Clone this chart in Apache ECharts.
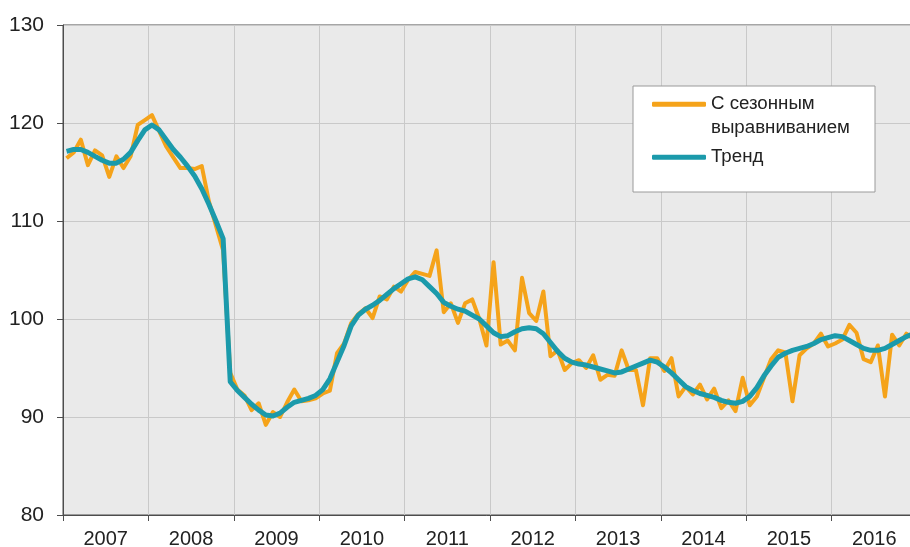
<!DOCTYPE html>
<html>
<head>
<meta charset="utf-8">
<script src="https://cdn.jsdelivr.net/npm/echarts@6/dist/echarts.min.js"></script>
<style>
html, body { margin: 0; padding: 0; background: #fff; }
#main { width: 910px; height: 547px; }
</style>
</head>
<body>
<div id="main"></div>
<script>
// годы по оси X
var years = ['2007', '2008', '2009', '2010', '2011', '2012', '2013', '2014', '2015', '2016'];

// индекс с сезонным выравниванием, помесячно янв 2007 - дек 2016
var seasonal = [
  116.4, 117.0, 118.3, 115.7, 117.2, 116.7, 114.5, 116.6, 115.4, 116.6, 119.8, 120.3,
  120.8, 119.2, 117.6, 116.5, 115.4, 115.4, 115.3, 115.6, 112.0, 109.5, 107.0, 94.5,
  92.8, 92.2, 90.7, 91.4, 89.2, 90.5, 90.0, 91.5, 92.8, 91.6, 91.7, 91.9,
  92.4, 92.7, 96.5, 97.5, 99.6, 100.5, 101.1, 100.1, 102.3, 102.0, 103.3, 102.8,
  104.0, 104.8, 104.6, 104.4, 107.0, 100.7, 101.6, 99.6, 101.6, 102.0, 100.0, 97.3,
  105.8, 97.4, 97.8, 96.8, 104.2, 100.6, 99.8, 102.8, 96.2, 96.8, 94.8, 95.5,
  95.8, 95.0, 96.3, 93.8, 94.3, 94.2, 96.8, 94.8, 94.8, 91.2, 96.0, 96.0,
  94.7, 96.0, 92.1, 93.1, 92.3, 93.3, 91.8, 92.9, 90.9, 91.7, 90.6, 94.0,
  91.2, 92.1, 94.0, 95.9, 96.8, 96.6, 91.6, 96.3, 97.0, 97.5, 98.5, 97.2,
  97.5, 97.9, 99.4, 98.6, 95.9, 95.6, 97.3, 92.1, 98.4, 97.3, 98.5, 98.0
];

// тренд
var trend = [
  117.1, 117.3, 117.3, 117.0, 116.6, 116.2, 115.9, 115.9, 116.3, 117.0, 118.2, 119.3,
  119.8, 119.3, 118.3, 117.3, 116.5, 115.6, 114.6, 113.3, 111.7, 110.0, 108.2, 93.6,
  92.7, 92.0, 91.3, 90.7, 90.2, 90.1, 90.4, 91.0, 91.5, 91.7, 91.9, 92.2,
  92.8, 93.9, 95.6, 97.3, 99.3, 100.4, 101.0, 101.4, 101.9, 102.5, 103.1, 103.6,
  104.1, 104.3, 104.0, 103.3, 102.6, 101.7, 101.3, 101.0, 100.8, 100.4, 100.0, 99.3,
  98.6, 98.2, 98.3, 98.7, 99.0, 99.1, 99.0, 98.5, 97.6, 96.7, 96.0, 95.6,
  95.4, 95.3, 95.1, 94.9, 94.7, 94.5, 94.6, 94.9, 95.2, 95.5, 95.8, 95.6,
  95.1, 94.5, 93.8, 93.1, 92.7, 92.4, 92.2, 92.0, 91.7, 91.5, 91.4, 91.6,
  92.1, 93.0, 94.2, 95.2, 96.1, 96.5, 96.8, 97.0, 97.2, 97.5, 97.9, 98.1,
  98.3, 98.2, 97.8, 97.4, 97.0, 96.8, 96.8, 97.0, 97.4, 97.8, 98.2, 98.5
];

var nameSeasonal = 'С сезонным\nвыравниванием';
var nameTrend = 'Тренд';

// точка стоит в середине месяца
function toPoints (arr) {
  var out = [];
  for (var i = 0; i < arr.length; i++) {
    out.push([i + 0.5, arr[i]]);
  }
  return out;
}

var font = '"Liberation Sans", Arial, sans-serif';
var axisColor = '#4d4d4d';
var gridColor = '#c9c9c9';

var myChart = echarts.init(document.getElementById('main'));
myChart.setOption({
  animation: false,
  backgroundColor: '#fff',
  grid: {
    left: 63,
    width: 854,
    top: 25,
    bottom: 32,
    outerBoundsMode: 'none',
    containLabel: false,
    show: true,
    backgroundColor: '#eaeaea',
    borderColor: axisColor,
    borderWidth: 1
  },
  xAxis: [
    {
      type: 'category',
      data: years,
      boundaryGap: true,
      position: 'bottom',
      axisLine: { lineStyle: { color: axisColor, width: 1 } },
      axisTick: { show: true, length: 6, lineStyle: { color: axisColor } },
      axisLabel: { color: '#222', fontSize: 20, fontFamily: font, margin: 14 },
      splitLine: { show: true, lineStyle: { color: gridColor, width: 1 } }
    },
    {
      type: 'value',
      min: 0,
      max: 120,
      show: false
    }
  ],
  yAxis: {
    type: 'value',
    min: 80,
    max: 130,
    interval: 10,
    axisLine: { show: true, lineStyle: { color: axisColor, width: 1 } },
    axisTick: { show: true, length: 6, lineStyle: { color: axisColor } },
    axisLabel: { color: '#222', fontSize: 21, fontFamily: font, margin: 19 },
    splitLine: { show: true, lineStyle: { color: gridColor, width: 1 } }
  },
  legend: {
    orient: 'vertical',
    left: 652,
    top: 69,
    padding: 0,
    itemGap: 6,
    itemWidth: 54,
    itemHeight: 5,
    icon: 'roundRect',
    // пустая первая строка, чтобы линия стояла против первой строки подписи
    formatter: function (name) {
      return name === nameSeasonal ? '\n' + name : name;
    },
    textStyle: { color: '#222', fontSize: 18.7, fontFamily: font, lineHeight: 23.5 },
    data: [nameSeasonal, nameTrend]
  },
  graphic: [
    {
      type: 'rect',
      z: 3,
      shape: { x: 633, y: 86, width: 242, height: 106 },
      style: { fill: '#fff', stroke: '#9a9a9a', lineWidth: 1 }
    }
  ],
  series: [
    {
      name: nameSeasonal,
      type: 'line',
      xAxisIndex: 1,
      data: toPoints(seasonal),
      showSymbol: false,
      symbol: 'none',
      itemStyle: { color: '#f5a31a' },
      lineStyle: { color: '#f5a31a', width: 4, join: 'round' },
      z: 2
    },
    {
      name: nameTrend,
      type: 'line',
      xAxisIndex: 1,
      data: toPoints(trend),
      showSymbol: false,
      symbol: 'none',
      itemStyle: { color: '#1b9aab' },
      lineStyle: { color: '#1b9aab', width: 5, join: 'round' },
      z: 3
    }
  ]
});
</script>
</body>
</html>
